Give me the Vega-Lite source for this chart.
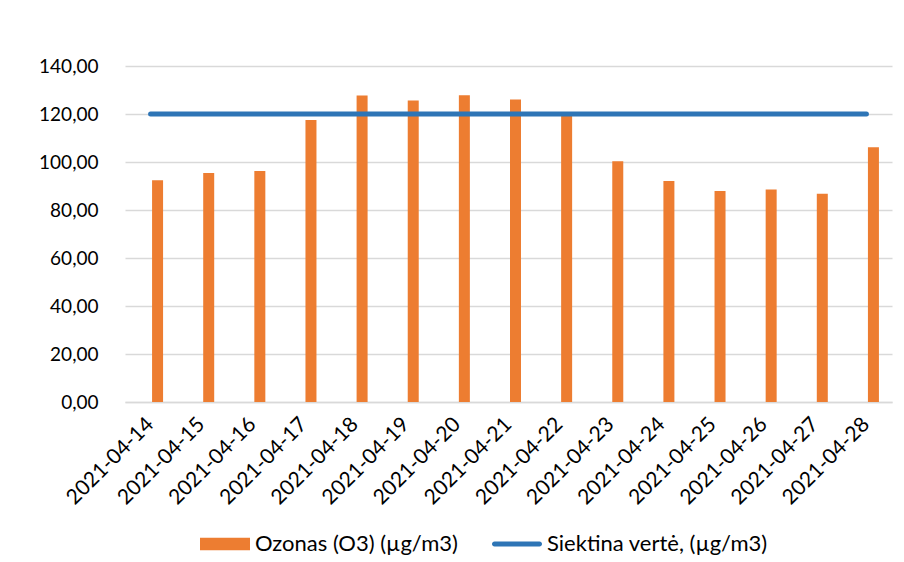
{
  "$schema": "https://vega.github.io/schema/vega-lite/v6.json",
  "width": 767,
  "height": 336,
  "autosize": {"type": "none"},
  "padding": {"left": 125, "top": 66, "right": 12, "bottom": 160},
  "background": "white",
  "data": {
    "values": [
      {"date": "2021-04-14", "ozonas": 92.4, "siektina": 120},
      {"date": "2021-04-15", "ozonas": 95.4, "siektina": 120},
      {"date": "2021-04-16", "ozonas": 96.3, "siektina": 120},
      {"date": "2021-04-17", "ozonas": 117.5, "siektina": 120},
      {"date": "2021-04-18", "ozonas": 127.7, "siektina": 120},
      {"date": "2021-04-19", "ozonas": 125.6, "siektina": 120},
      {"date": "2021-04-20", "ozonas": 127.8, "siektina": 120},
      {"date": "2021-04-21", "ozonas": 126.0, "siektina": 120},
      {"date": "2021-04-22", "ozonas": 119.5, "siektina": 120},
      {"date": "2021-04-23", "ozonas": 100.3, "siektina": 120},
      {"date": "2021-04-24", "ozonas": 92.1, "siektina": 120},
      {"date": "2021-04-25", "ozonas": 87.9, "siektina": 120},
      {"date": "2021-04-26", "ozonas": 88.5, "siektina": 120},
      {"date": "2021-04-27", "ozonas": 86.8, "siektina": 120},
      {"date": "2021-04-28", "ozonas": 106.1, "siektina": 120}
    ]
  },
  "encoding": {
    "x": {
      "field": "date",
      "type": "ordinal",
      "sort": null,
      "scale": {"paddingInner": 0, "paddingOuter": 0},
      "axis": {
        "title": null,
        "labelAngle": -45,
        "labelAlign": "right",
        "labelBaseline": "middle",
        "labelPadding": 19,
        "labelFont": "Lato",
        "labelFontSize": 21,
        "labelColor": "#000000",
        "labelLimit": 300,
        "ticks": false,
        "domain": true,
        "domainColor": "#d9d9d9",
        "domainWidth": 1.5,
        "grid": false
      }
    }
  },
  "layer": [
    {
      "mark": {"type": "bar", "width": 11, "xOffset": 7},
      "encoding": {
        "y": {
          "field": "ozonas",
          "type": "quantitative",
          "scale": {"domain": [0, 140], "nice": false},
          "axis": {
            "title": null,
            "values": [0, 20, 40, 60, 80, 100, 120, 140],
            "labelExpr": "replace(format(datum.value, '.2f'), '.', ',')",
            "labelFont": "Lato",
            "labelFontSize": 19,
            "labelColor": "#000000",
            "labelPadding": 27,
            "ticks": false,
            "domain": false,
            "grid": true,
            "gridColor": "#d9d9d9",
            "gridWidth": 1.5
          }
        },
        "color": {
          "datum": "Ozonas (O3) (µg/m3)",
          "type": "nominal",
          "scale": {
            "domain": ["Ozonas (O3) (µg/m3)", "Siektina vertė, (µg/m3)"],
            "range": ["#ED7D31", "#2E75B6"]
          },
          "legend": {
            "title": null,
            "orient": "none",
            "direction": "horizontal",
            "legendX": 75,
            "legendY": 453,
            "labelFont": "Lato",
            "labelFontSize": 22,
            "labelColor": "#000000",
            "labelLimit": 400,
            "labelOffset": 5,
            "columnPadding": 34,
            "symbolSize": 2500,
            "symbolStrokeWidth": 0,
            "encode": {
              "symbols": {
                "update": {
                  "shape": {"signal": "datum.label == 'Ozonas (O3) (µg/m3)' ? 'M-1,-0.25H1V0.25H-1Z' : 'M-0.9,-0.1H0.9A0.1,0.1 0 0 1 0.9,0.1H-0.9A0.1,0.1 0 0 1 -0.9,-0.1Z'"}
                }
              }
            }
          }
        }
      }
    },
    {
      "mark": {"type": "line", "strokeWidth": 5, "strokeCap": "round"},
      "encoding": {
        "y": {"field": "siektina", "type": "quantitative"},
        "color": {"datum": "Siektina vertė, (µg/m3)", "type": "nominal"}
      }
    }
  ],
  "config": {
    "view": {"stroke": null}
  }
}
